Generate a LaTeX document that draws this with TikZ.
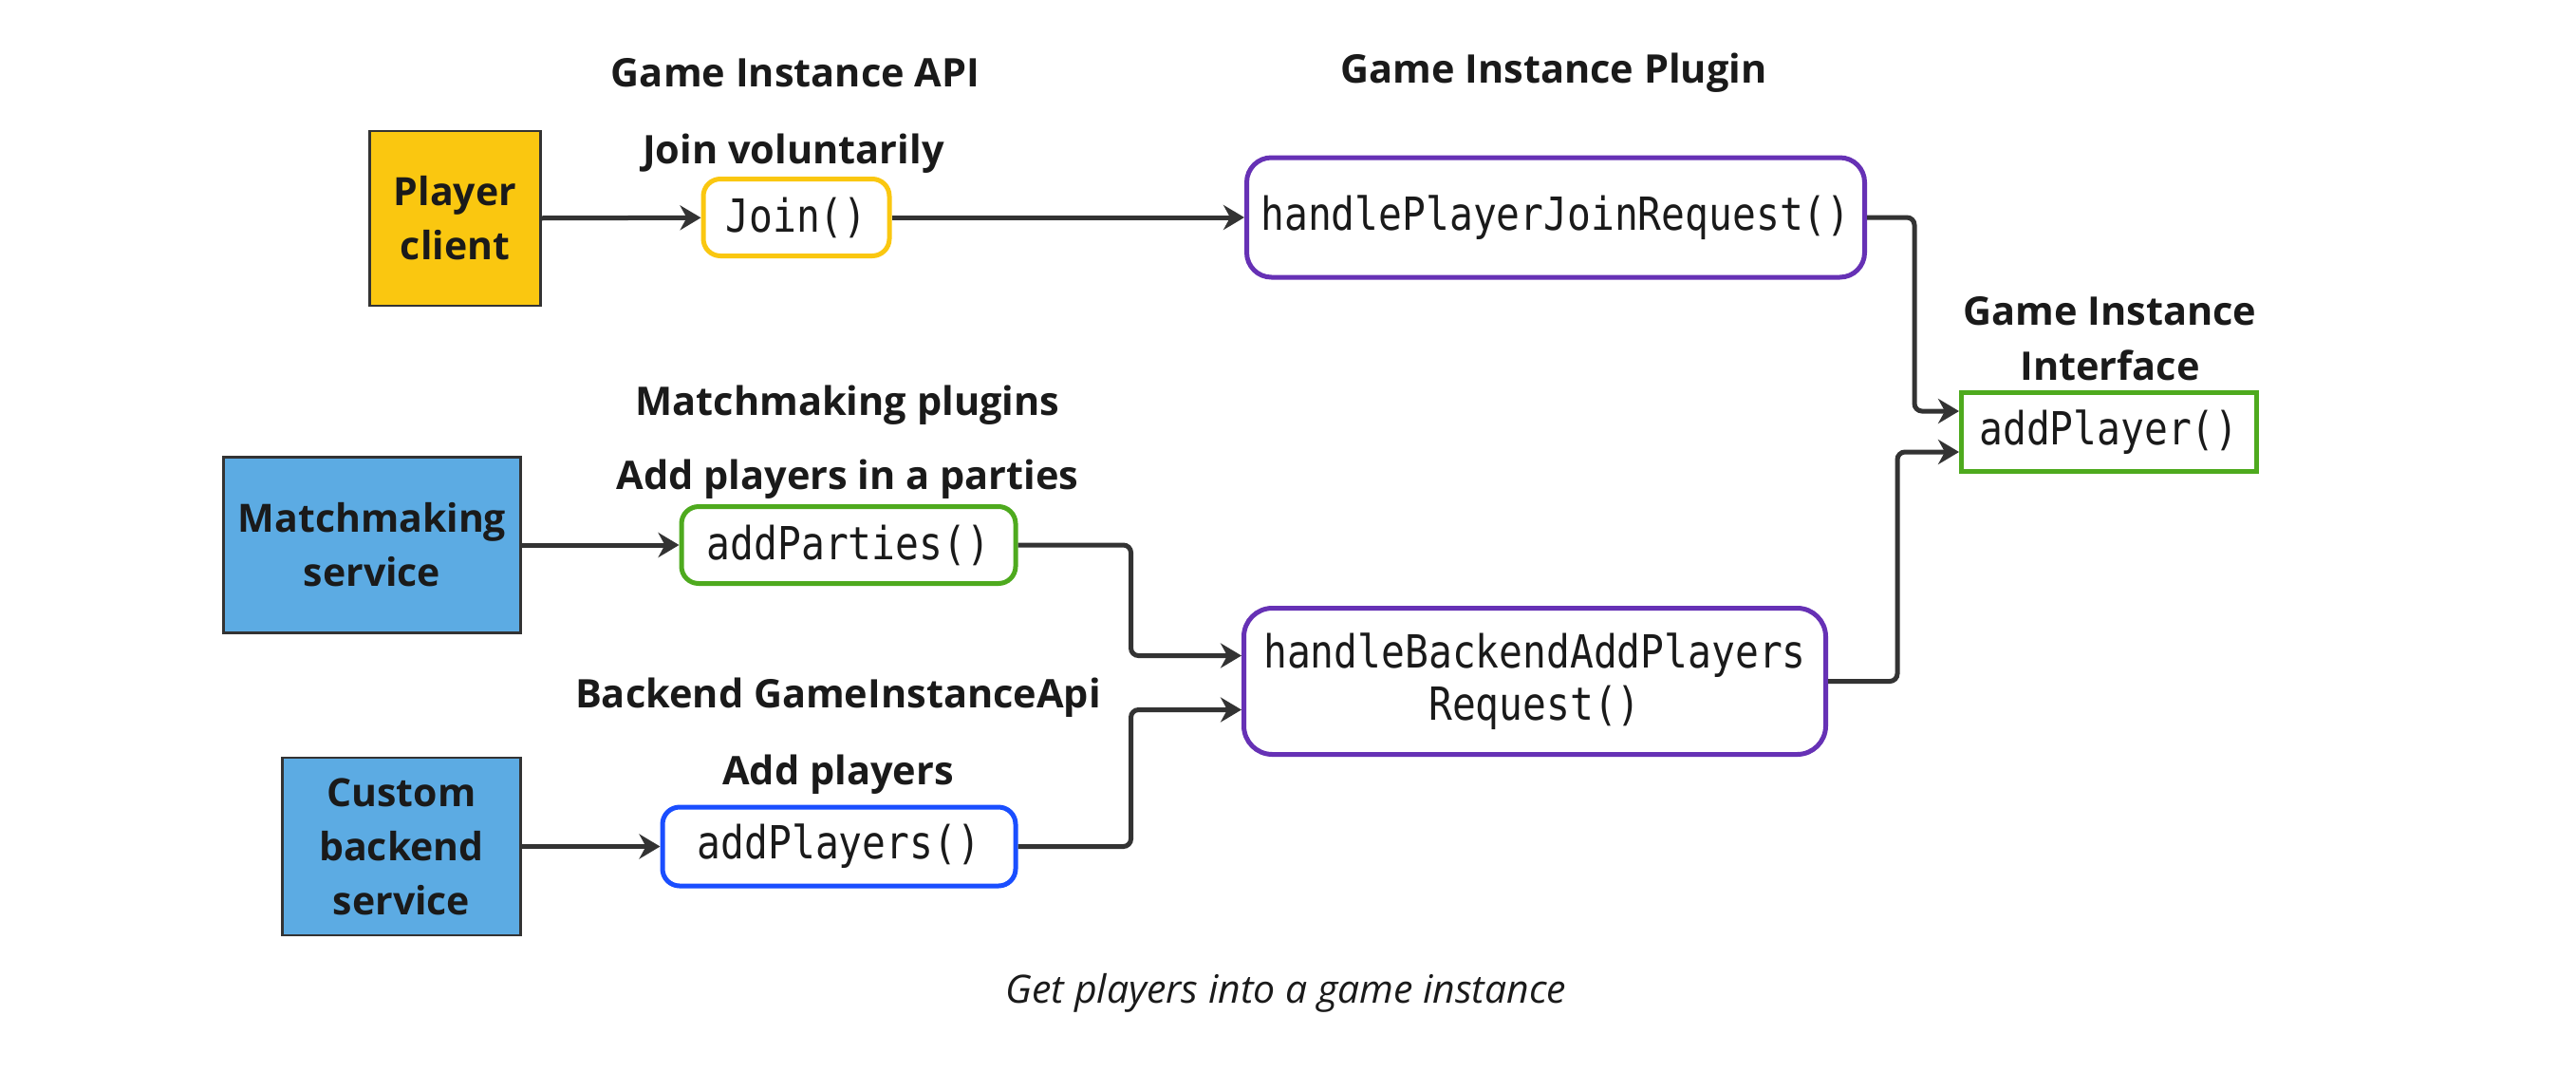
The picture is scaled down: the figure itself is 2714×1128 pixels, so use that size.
\documentclass[tikz,border=0pt]{standalone}
\usepackage{fontspec}
\setmainfont{Open Sans}
\setmonofont{DejaVu Sans Mono}[FakeStretch=0.86]
\usetikzlibrary{arrows.meta,calc}
\definecolor{txt}{HTML}{1A1A1A}
\definecolor{linec}{HTML}{333333}
\definecolor{yel}{HTML}{FAC710}
\definecolor{blu}{HTML}{5CABE3}
\definecolor{purp}{HTML}{6631B5}
\definecolor{grn}{HTML}{4EAA1E}
\definecolor{bblue}{HTML}{1A4EFF}
\begin{document}
\begin{tikzpicture}[x=1pt,y=-1pt,
  title/.style={font=\fontsize{41.5}{58}\selectfont\bfseries, text=txt, inner sep=0pt, align=center},
  fnbox/.style={draw, line width=5pt, rounded corners=18pt, fill=white, text=txt,
     font=\fontsize{48}{55}\selectfont\ttfamily, inner sep=0pt, align=center},
  svc/.style={draw=linec, line width=2.5pt, text=txt, inner sep=0pt,
     font=\fontsize{41}{57}\selectfont\bfseries, align=center},
  conn/.style={draw=linec, line width=5pt, rounded corners=8pt,
     -{Stealth[length=22pt,width=26pt,inset=7pt]}}
]
\useasboundingbox[fill=white] (0,0) rectangle (2714,1128);

% titles
\node[title] (t1) at (838,77) {Game Instance API};
\node[title] (t2) at (1637,77) {Game Instance Plugin};
\node[title] (t3) at (836,162) {Join voluntarily};
\node[title] (t4) at (2223,357) {Game Instance\\Interface};
\node[title] (t5) at (893,427) {Matchmaking plugins};
\node[title] (t6) at (893,505) {Add players in a parties};
\node[title] (t7) at (883,735) {Backend GameInstanceApi};
\node[title] (t8) at (883,816) {Add players};
\node[font=\fontsize{41}{48}\selectfont\itshape, text=txt, inner sep=0pt] (cap) at (1355,1046) {Get players into a game instance};

% service boxes
\node[svc, fill=yel, minimum width=180pt, minimum height=184pt] (pc) at (479.5,230) {Player\\client};
\node[svc, fill=blu, minimum width=313pt, minimum height=185pt] (ms) at (392,574) {Matchmaking\\service};
\node[svc, fill=blu, minimum width=251pt, minimum height=187pt] (cb) at (423,891.5) {Custom\\backend\\service};

% function boxes
\node[fnbox, draw=yel, minimum width=196pt, minimum height=81pt] (join) at (839,229) {Join()};
\node[fnbox, draw=purp, minimum width=651pt, minimum height=126pt, rounded corners=26pt] (hpj) at (1639,229) {handlePlayerJoinRequest()};
\node[fnbox, draw=grn, minimum width=311pt, minimum height=83pt, rounded corners=0pt] (ap) at (2222,455) {addPlayer()};
\node[fnbox, draw=grn, minimum width=352pt, minimum height=81pt] (apt) at (894,574) {addParties()};
\node[fnbox, draw=purp, minimum width=613pt, minimum height=154pt, rounded corners=30pt] (hba) at (1617,717.5) {handleBackendAddPlayers\\Request()};
\node[fnbox, draw=bblue, minimum width=372pt, minimum height=83pt] (aps) at (884,891.5) {addPlayers()};

% connectors
\draw[conn] (pc) -- (join);
\draw[conn] (join) -- (hpj);
\draw[conn] (ms) -- (apt);
\draw[conn] (cb) -- (aps);
\draw[conn] (hpj.east) -- ++(50,0) |- ($(ap.west)+(0,-22)$);
\draw[conn] (hba.east) -- ++(73,0) |- ($(ap.west)+(0,21)$);
\draw[conn] (apt.east) -- ++(119,0) |- ($(hba.west)+(0,-27)$);
\draw[conn] (aps.east) -- ++(119,0) |- ($(hba.west)+(0,30)$);
\end{tikzpicture}
\end{document}
